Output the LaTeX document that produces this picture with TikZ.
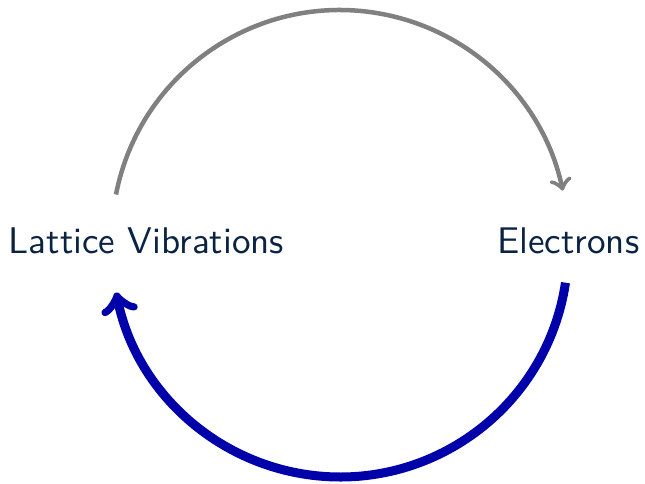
\documentclass[tikz,border=0pt]{standalone}
\usetikzlibrary{arrows}
\definecolor{txtc}{RGB}{10,35,66}
\definecolor{bluc}{RGB}{0,0,170}
\definecolor{grayc}{RGB}{128,128,128}
\begin{document}
\begin{tikzpicture}[x=0.2776pt,y=-0.2776pt,
  lbl/.style={inner sep=0pt,text=txtc,font=\sffamily\fontsize{10.3}{12.5}\selectfont},
  grayarc/.style={draw=grayc,line width=1.25pt,->},
  bluearc/.style={draw=bluc,line width=2.5pt,->}]
\useasboundingbox (0,0) rectangle (645,484);
\node[lbl,anchor=base west] (lv) at (8,253) {Lattice Vibrations};
\node[lbl,anchor=base east] (el) at (640,253) {Electrons};
\coordinate (gs) at (116,194.5);
\coordinate (bs) at (565.5,282.7);
\draw[grayarc] (gs) arc[start angle=169,end angle=12,radius=63.29pt];
\draw[bluearc] (bs) arc[start angle=-8.5,end angle=-169,radius=63.29pt];
\end{tikzpicture}
\end{document}
